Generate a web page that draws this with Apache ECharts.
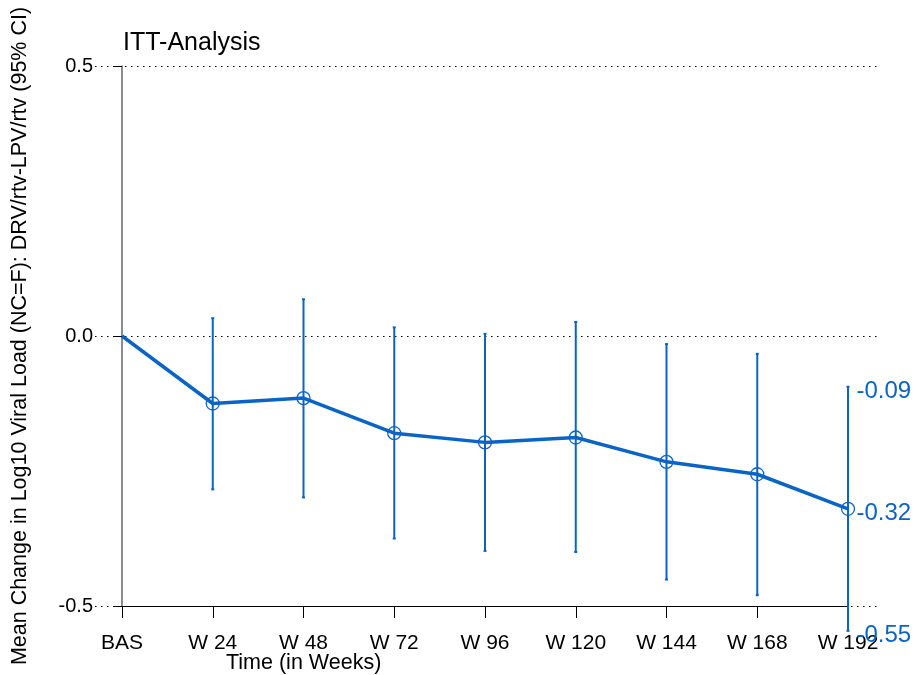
<!DOCTYPE html>
<html>
<head>
<meta charset="utf-8">
<script src="https://cdn.jsdelivr.net/npm/echarts@6/dist/echarts.min.js"></script>
<style>html,body{margin:0;padding:0;background:#fff}#chart{width:915px;height:675px}</style>
</head>
<body>
<div id="chart"></div>
<script>
const categories = ['BAS', 'W 24', 'W 48', 'W 72', 'W 96', 'W 120', 'W 144', 'W 168', 'W 192'];
const meanChange = [0, -0.125, -0.115, -0.180, -0.197, -0.188, -0.233, -0.256, -0.320];
const ciUpper = [null, 0.033, 0.068, 0.016, 0.004, 0.026, -0.015, -0.033, -0.094];
const ciLower = [null, -0.284, -0.299, -0.375, -0.398, -0.400, -0.451, -0.480, -0.546];
const yMin = -0.5, yMax = 0.5, yStep = 0.5;

const BLUE = '#0a64c6';
const FONT = 'Liberation Sans';
const last = categories.length - 1;

const chart = echarts.init(document.getElementById('chart'), null, {renderer: 'canvas'});

const errData = categories.map((c, i) => [i, ciLower[i], ciUpper[i]]).filter(d => d[1] !== null);
const endLabels = [ciUpper[last], meanChange[last], ciLower[last]].map(v => [last, v]);

chart.setOption({
  animation: false,
  backgroundColor: '#fff',
  title: {
    text: 'ITT-Analysis', left: 118, top: 26,
    textStyle: {fontFamily: FONT, fontSize: 25, fontWeight: 'normal', color: '#000'}
  },
  grid: [
    {left: 95, right: 38, top: 66, bottom: 69},
    {left: 122, right: 67, top: 66, bottom: 69}
  ],
  xAxis: [
    {gridIndex: 0, type: 'value', min: 0, max: 1, show: false},
    {
      gridIndex: 1, type: 'category', data: categories, boundaryGap: false,
      axisLine: {show: true, onZero: false, lineStyle: {color: '#000', width: 1}},
      axisTick: {show: true, length: 12, lineStyle: {color: '#000'}},
      axisLabel: {fontFamily: FONT, fontSize: 21, color: '#000', margin: 27},
      splitLine: {show: false}
    }
  ],
  yAxis: [
    {
      gridIndex: 0, type: 'value', min: yMin, max: yMax, interval: yStep,
      name: 'Mean Change in Log10 Viral Load (NC=F): DRV/rtv-LPV/rtv (95% CI)',
      nameLocation: 'middle', nameGap: 64,
      nameTextStyle: {fontFamily: FONT, fontSize: 21.5, color: '#000'},
      axisLine: {show: false}, axisTick: {show: false},
      axisLabel: {fontFamily: FONT, fontSize: 20, color: '#000', margin: 2,
        formatter: v => v.toFixed(1)},
      splitLine: {show: true, lineStyle: {color: '#000', type: [1.5, 4.5], width: 1}}
    },
    {
      gridIndex: 1, type: 'value', min: yMin, max: yMax, interval: yStep,
      axisLine: {show: true, onZero: false, lineStyle: {color: '#666', width: 1.5}},
      axisTick: {show: true, length: 8, lineStyle: {color: '#000'}},
      axisLabel: {show: false},
      splitLine: {show: false}
    }
  ],
  graphic: [{
    type: 'text', left: 226, top: 652,
    style: {text: 'Time (in Weeks)', font: '21.5px "Liberation Sans"', fill: '#000'}
  }],
  series: [
    {
      type: 'custom', xAxisIndex: 1, yAxisIndex: 1, z: 2, clip: false,
      data: errData,
      renderItem: function (params, api) {
        const x = api.value(0);
        const lo = api.coord([x, api.value(1)]);
        const hi = api.coord([x, api.value(2)]);
        const st = {stroke: BLUE, lineWidth: 2};
        return {
          type: 'group', children: [
            {type: 'line', shape: {x1: lo[0], y1: lo[1], x2: hi[0], y2: hi[1]}, style: st},
            {type: 'line', shape: {x1: lo[0] - 1.5, y1: lo[1], x2: lo[0] + 1.5, y2: lo[1]}, style: st},
            {type: 'line', shape: {x1: hi[0] - 1.5, y1: hi[1], x2: hi[0] + 1.5, y2: hi[1]}, style: st}
          ]
        };
      }
    },
    {
      type: 'line', xAxisIndex: 1, yAxisIndex: 1, z: 3,
      data: meanChange.map((v, i) => i === 0 ? {value: v, symbol: 'none'} : v),
      symbol: 'circle', symbolSize: 13, showAllSymbol: true,
      lineStyle: {color: BLUE, width: 3.5},
      itemStyle: {color: 'rgba(0,0,0,0)', borderColor: BLUE, borderWidth: 1.3}
    },
    {
      type: 'scatter', xAxisIndex: 1, yAxisIndex: 1, z: 4, clip: false,
      data: endLabels, symbolSize: 1, silent: true,
      itemStyle: {color: 'rgba(0,0,0,0)', opacity: 1},
      labelLayout: {hideOverlap: false, dy: 5},
      label: {show: true, position: 'right', distance: 8, opacity: 1,
        fontFamily: FONT, fontSize: 24, color: BLUE,
        formatter: p => p.value[1].toFixed(2)}
    }
  ]
});
</script>
</body>
</html>
